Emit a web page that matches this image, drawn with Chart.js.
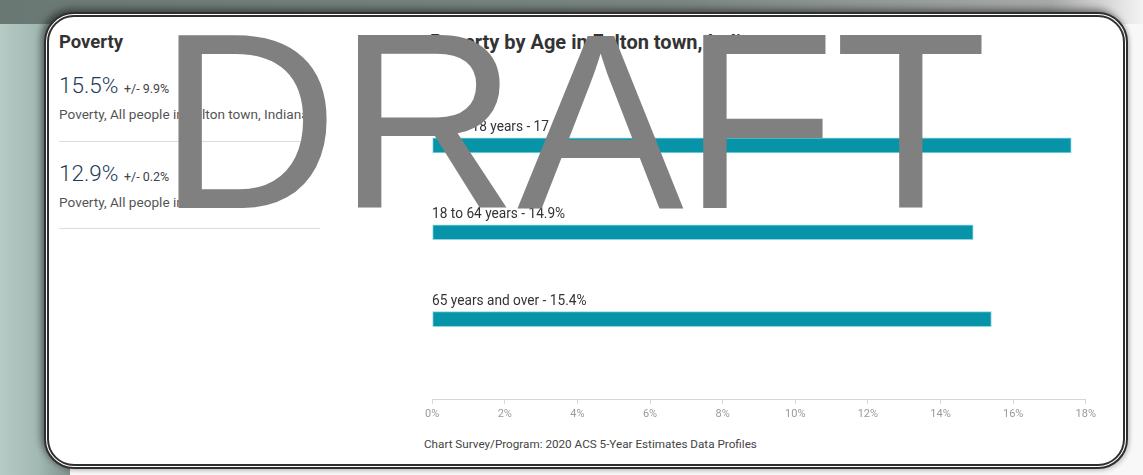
<!DOCTYPE html>
<html>
<head>
<meta charset="utf-8">
<script src="https://cdn.jsdelivr.net/npm/chart.js@4.4.1/dist/chart.umd.min.js"></script>
<style>
  html, body { margin: 0; padding: 0; }
  body { width: 1143px; height: 475px; position: relative; overflow: hidden; background: #f8f8f8; font-family: Roboto, "Liberation Sans", sans-serif; }
  .side { position: absolute; left: 0; top: 0; width: 70px; height: 475px; background: linear-gradient(to right, #b7cac5, #a2b8b2 55%, #7f918c); }
  .top { position: absolute; left: 0; top: 0; width: 1143px; height: 24px; background: linear-gradient(to right, #6a7873, #7b8682 60%, #a8aaa9 92%, #f4f4f4); }
  .card { position: absolute; left: 44px; top: 12px; width: 1074px; height: 447px; border: 5px double #2f2f2f; border-radius: 30px; background: #fff; box-shadow: -3px -3px 7px rgba(0,0,0,0.45), 2px 2px 4px rgba(0,0,0,0.15); }
  .txt { position: absolute; white-space: nowrap; }
  .h { font-weight: bold; font-size: 18.5px; color: #333; }
  .big { font-size: 22.5px; font-weight: 300; color: #1d3b5a; }
  .big span { font-size: 12.5px; font-weight: 400; color: #444; }
  .desc { font-size: 13.6px; color: #555; }
  .rule { position: absolute; left: 59px; width: 261px; height: 1px; background: #dcdcdc; }
  .foot { font-size: 11.7px; color: #444; }
  #wrap { position: absolute; left: 421px; top: 90px; width: 679px; height: 335px; }
  .draft { position: absolute; left: 158px; top: -3px; font-family: "Liberation Sans", Arial, sans-serif; font-size: 250px; line-height: 1; color: #808080; letter-spacing: -1px; }
</style>
</head>
<body>
<div class="side"></div>
<div class="top"></div>
<div class="card"></div>

<div class="txt h" style="left:59px; top:31px;">Poverty</div>
<div class="txt big" style="left:59px; top:72px;">15.5% <span>+/- 9.9%</span></div>
<div class="txt desc" style="left:59px; top:106px;">Poverty, All people in Fulton town, Indiana</div>
<div class="rule" style="top:141px;"></div>
<div class="txt big" style="left:59px; top:160px;">12.9% <span>+/- 0.2%</span></div>
<div class="txt desc" style="left:59px; top:194px;">Poverty, All people in Indiana</div>
<div class="rule" style="top:228px;"></div>

<div class="txt h" style="left:430px; top:30px; font-size:20px;">Poverty by Age in Fulton town, Indiana</div>
<div id="wrap"><canvas id="myChart"></canvas></div>
<div class="txt foot" style="left:424px; top:437px;">Chart Survey/Program: 2020 ACS 5-Year Estimates Data Profiles</div>

<div class="draft">DRAFT</div>

<script>
const ageGroups = ["Under 18 years", "18 to 64 years", "65 years and over"];
const povertyRates = [17.6, 14.9, 15.4];
const xTicks = [0, 2, 4, 6, 8, 10, 12, 14, 16, 18];

// label above each bar, a little narrow like the original
const barLabels = {
  id: 'barLabels',
  afterDatasetsDraw(chart) {
    const { ctx } = chart;
    const meta = chart.getDatasetMeta(0);
    ctx.save();
    ctx.font = '14px Roboto';
    ctx.fillStyle = '#333';
    ctx.textBaseline = 'bottom';
    const squeeze = 133 / ctx.measureText('18 to 64 years - 14.9%').width;
    meta.data.forEach((bar, i) => {
      const text = ageGroups[i] + ' - ' + povertyRates[i] + '%';
      const x = chart.scales.x.getPixelForValue(0);
      ctx.save();
      ctx.translate(x, bar.y - bar.height / 2 - 3);
      ctx.scale(squeeze, 1);
      ctx.fillText(text, 0, 0);
      ctx.restore();
    });
    ctx.restore();
  }
};

const ctx = document.getElementById("myChart");

const myChart = new Chart(ctx, {
  type: "bar",
  plugins: [barLabels],
  data: {
    labels: ageGroups,
    datasets: [
      {
        data: povertyRates,
        backgroundColor: '#0794a8',
        borderColor: '#8fd6e0',
        borderWidth: 1,
        borderSkipped: false,
        barThickness: 15,
      },
    ],
  },
  options: {
    indexAxis: 'y',
    responsive: true,
    maintainAspectRatio: false,
    animation: false,
    layout: {
      padding: { left: 4, right: 13, top: 12, bottom: 0 }
    },
    plugins: {
      legend: { display: false },
      tooltip: { enabled: false },
    },
    scales: {
      y: {
        display: false,
        offset: true,
        // leave room under the last bar before the axis
        afterBuildTicks: (scale) => { scale._valueRange = 3.43; },
      },
      x: {
        min: 0,
        max: 18,
        afterBuildTicks: (scale) => { scale.ticks = xTicks.map(v => ({ value: v })); },
        grid: {
          drawOnChartArea: false,
          tickLength: 4,
          color: '#d6d6d6',
        },
        border: { color: '#d6d6d6' },
        ticks: {
          padding: 4,
          color: '#9a9a9a',
          font: { size: 11, family: 'Roboto' },
          callback: (v) => v + '%',
        },
      },
    },
  },
});
</script>
</body>
</html>
